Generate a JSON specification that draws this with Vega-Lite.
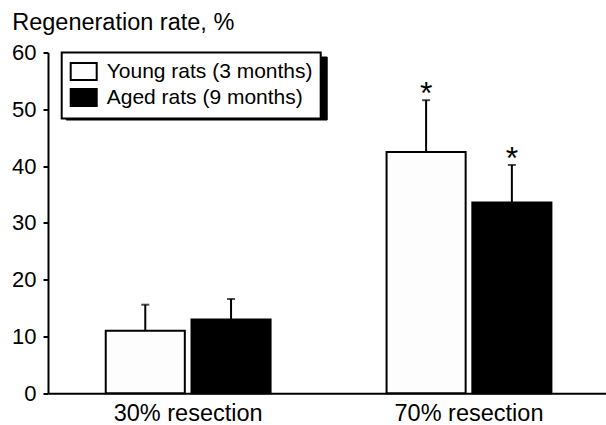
{
  "$schema": "https://vega.github.io/schema/vega-lite/v6.json",
  "autosize": "none",
  "width": 558,
  "height": 340.8,
  "padding": {"left": 48, "top": 52.5, "right": 0, "bottom": 31.7},
  "background": "white",
  "config": {
    "font": "Liberation Sans",
    "view": {"stroke": null},
    "axis": {"labelColor": "black", "domainColor": "black", "tickColor": "black", "titleColor": "black", "grid": false}
  },
  "data": {
    "values": [
      {"resection": "30% resection", "series": "Young rats (3 months)", "value": 11.0, "upper": 15.6, "sig": ""},
      {"resection": "30% resection", "series": "Aged rats (9 months)", "value": 13.0, "upper": 16.6, "sig": ""},
      {"resection": "70% resection", "series": "Young rats (3 months)", "value": 42.5, "upper": 51.6, "sig": "*"},
      {"resection": "70% resection", "series": "Aged rats (9 months)", "value": 33.6, "upper": 40.2, "sig": "*"}
    ]
  },
  "encoding": {
    "x": {
      "field": "resection", "type": "nominal",
      "scale": {"paddingInner": 0.413, "paddingOuter": 0.2, "align": 0.514},
      "axis": {"title": null, "labelAngle": 0, "labelFontSize": 23.5, "ticks": false, "tickSize": 0, "labelPadding": 27, "labelBaseline": "alphabetic", "domainWidth": 2}
    },
    "xOffset": {
      "field": "series", "type": "nominal",
      "sort": ["Young rats (3 months)", "Aged rats (9 months)"],
      "scale": {"paddingInner": 0.078, "paddingOuter": 0}
    }
  },
  "layer": [
    {
      "mark": {"type": "bar", "strokeWidth": 2},
      "encoding": {
        "y": {
          "field": "value", "type": "quantitative",
          "scale": {"domain": [0, 60], "nice": false},
          "axis": {
            "title": "Regeneration rate, %", "titleAngle": 0, "titleAlign": "left", "titleBaseline": "alphabetic",
            "titleX": -36.3, "titleY": -23.2, "titleFontSize": 23.5, "titleFontWeight": "normal",
            "values": [0, 10, 20, 30, 40, 50, 60], "labelFontSize": 22, "tickSize": 5, "tickWidth": 2,
            "domainWidth": 2, "labelPadding": 7
          }
        },
        "fill": {
          "field": "series", "type": "nominal",
          "sort": ["Young rats (3 months)", "Aged rats (9 months)"],
          "scale": {"range": ["#fdfdfd", "#000000"]},
          "legend": {
            "orient": "none", "legendX": 13.7, "legendY": 0, "zindex": 1, "title": null,
            "fillColor": "white", "strokeColor": "black", "padding": 8,
            "labelFontSize": 21, "labelColor": "black", "labelOffset": 12, "labelLimit": 400, "rowPadding": 0,
            "symbolType": "M-1.3,-0.86L1.3,-0.86L1.3,0.86L-1.3,0.86Z", "symbolSize": 400, "symbolOffset": 3,
            "encode": {
              "legend": {"update": {"strokeWidth": {"value": 2}}},
              "symbols": {"update": {"stroke": {"value": "black"}, "strokeWidth": {"value": 2}, "opacity": {"value": 1}}}
            }
          }
        },
        "stroke": {
          "field": "series", "type": "nominal",
          "scale": {"domain": ["Young rats (3 months)", "Aged rats (9 months)"], "range": ["#000000", "#000000"]},
          "legend": {
            "orient": "none", "legendX": 17.7, "legendY": 4, "zindex": 0, "title": null,
            "fillColor": "black", "strokeColor": "black", "padding": 8,
            "labelFontSize": 21, "labelColor": "black", "labelOffset": 214, "labelLimit": 400, "rowPadding": 0,
            "labelExpr": "'.'",
            "symbolType": "M-1.3,-0.86L1.3,-0.86L1.3,0.86L-1.3,0.86Z", "symbolSize": 400, "symbolOffset": 3,
            "encode": {
              "legend": {"update": {"strokeWidth": {"value": 2}}},
              "symbols": {"update": {"fill": {"value": "black"}, "stroke": {"value": "black"}, "strokeWidth": {"value": 2}, "opacity": {"value": 1}}}
            }
          }
        }
      }
    },
    {
      "mark": {"type": "rule", "color": "black", "strokeWidth": 2},
      "encoding": {
        "y": {"field": "value", "type": "quantitative"},
        "y2": {"field": "upper"}
      }
    },
    {
      "mark": {"type": "tick", "color": "black", "thickness": 2, "size": 8, "orient": "horizontal"},
      "encoding": {
        "y": {"field": "upper", "type": "quantitative"}
      }
    },
    {
      "mark": {"type": "text", "color": "black", "fontSize": 32, "baseline": "alphabetic", "dy": 4},
      "encoding": {
        "y": {"field": "upper", "type": "quantitative"},
        "text": {"field": "sig"}
      }
    }
  ]
}
